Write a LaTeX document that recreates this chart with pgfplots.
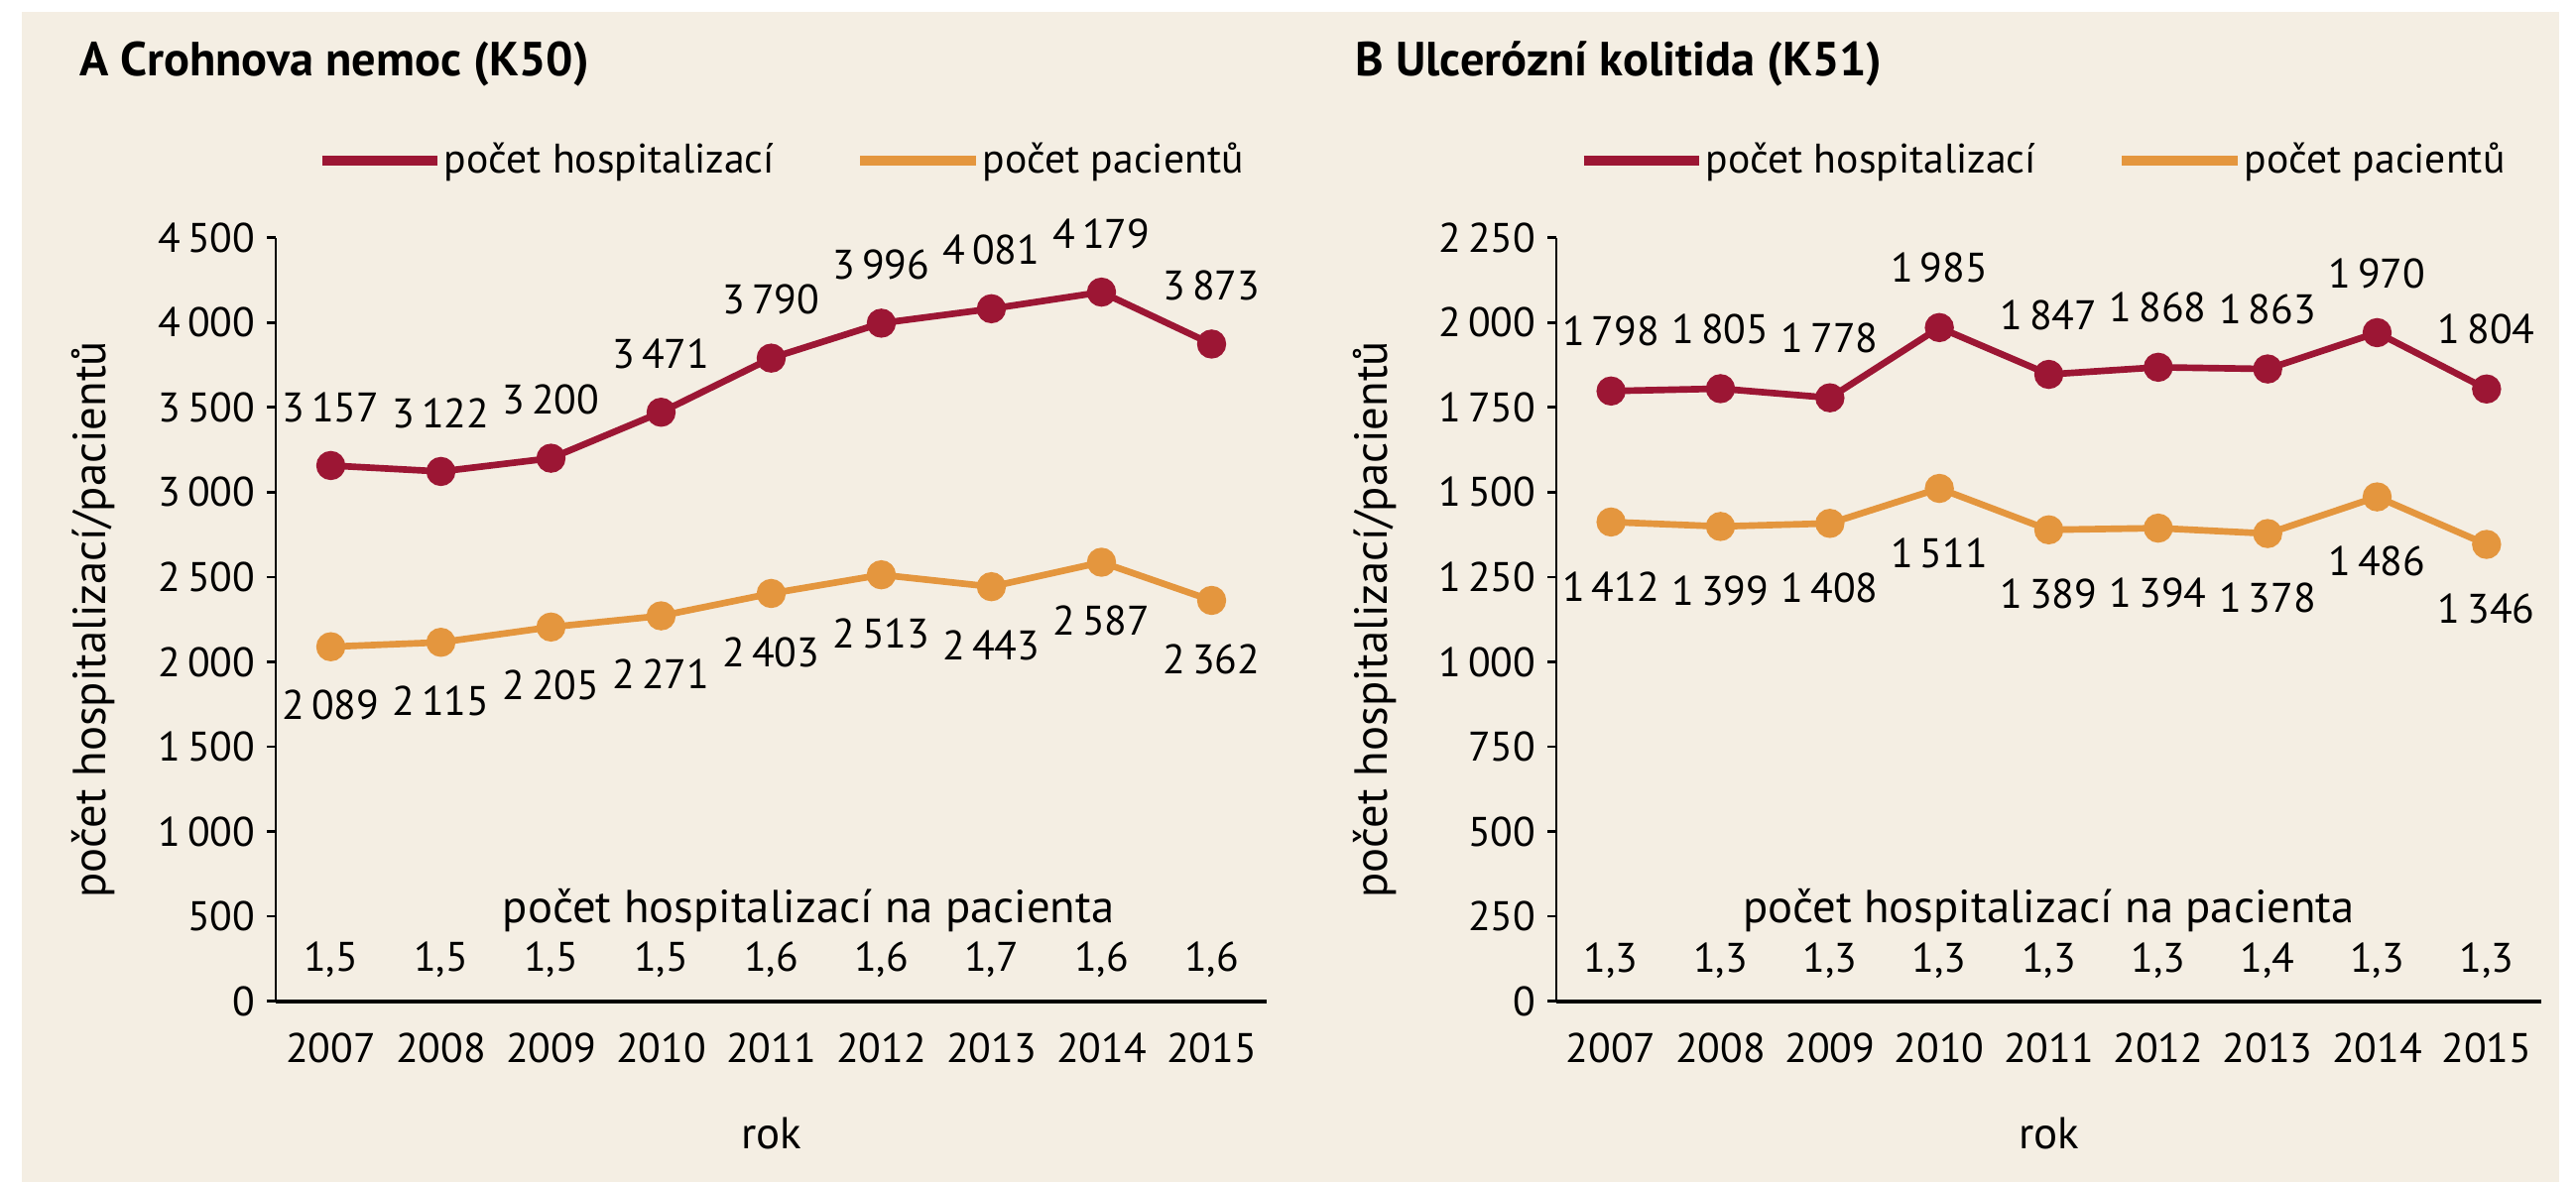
\documentclass[border=0pt]{standalone}
\usepackage{pgfplots}
\pgfplotsset{compat=1.18}
\usepackage{pgfplotstable}
\usepackage{fontspec}
\setmainfont{PT Sans}
\definecolor{bgc}{RGB}{244,238,227}
\definecolor{hosp}{RGB}{156,22,52}
\definecolor{pac}{RGB}{228,150,62}

\pgfplotstableread{
x hosp pac
0 3157 2089
1 3122 2115
2 3200 2205
3 3471 2271
4 3790 2403
5 3996 2513
6 4081 2443
7 4179 2587
8 3873 2362
}\dataA
\pgfplotstableread{
x hosp pac
0 1798 1412
1 1805 1399
2 1778 1408
3 1985 1511
4 1847 1389
5 1868 1394
6 1863 1378
7 1970 1486
8 1804 1346
}\dataB
\pgfplotstableread{
x pos r
0 245 1.5
1 245 1.5
2 245 1.5
3 245 1.5
4 245 1.6
5 245 1.6
6 245 1.7
7 245 1.6
8 245 1.6
}\ratioA
\pgfplotstableread{
x pos r
0 120 1.3
1 120 1.3
2 120 1.3
3 120 1.3
4 120 1.3
5 120 1.3
6 120 1.4
7 120 1.3
8 120 1.3
}\ratioB

\pgfplotsset{
  panel/.style={
    scale only axis, height=231pt,
    xmin=-0.5, xmax=8.5, ymin=0,
    axis lines*=left,
    axis line style={line width=0.8pt, black},
    x axis line style={line width=1.2pt},
    tick align=outside,
    xtick=\empty,
    minor xtick={-0.5,0.5,1.5,2.5,3.5,4.5,5.5,6.5,7.5,8.5},
    extra x ticks={0,1,2,3,4,5,6,7,8},
    extra x tick labels={2007,2008,2009,2010,2011,2012,2013,2014,2015},
    extra x tick style={major tick length=0pt, xticklabel style={yshift=-6pt}},
    minor tick length=4.5pt,
    major tick length=2.7pt,
    tick style={black, line width=0.8pt},
    clip=false,
    /pgf/number format/assume math mode=true,
    /pgf/number format/1000 sep={\,},
    tick label style={font=\fontsize{12.5}{14}\selectfont},
    xlabel={rok},
    ylabel={počet hospitalizací/pacientů},
    every axis x label/.style={at={(rel axis cs:0.5,-0.173)}, anchor=center, font=\fontsize{13.5}{15}\selectfont},
    every axis y label/.style={at={(rel axis cs:-0.184,0.5)}, rotate=90, anchor=center, font=\fontsize{14}{16}\selectfont},
    legend columns=2,
    legend style={draw=none, fill=none, inner sep=0pt, anchor=west,
      nodes={inner sep=0.5pt, anchor=west, font=\fontsize{12.5}{14}\selectfont},
      /tikz/every even column/.append style={column sep=24pt}},
    legend image code/.code={\draw[#1, mark=none, line width=3pt] (0pt,0pt) -- (35pt,0pt);},
  },
  hl/.style={hosp, line width=2pt, mark=*, mark size=3.4pt, mark options={solid},
    nodes near coords, point meta=y,
    every node near coord/.append style={anchor=center, yshift=#1, text=black, font=\fontsize{12.5}{14}\selectfont}},
  pl/.style={pac, line width=2pt, mark=*, mark size=3.4pt, mark options={solid},
    nodes near coords, point meta=y,
    every node near coord/.append style={anchor=center, yshift=#1, text=black, font=\fontsize{12.5}{14}\selectfont}},
  rl/.style={draw=none, mark=none, forget plot, nodes near coords, point meta=explicit,
    every node near coord/.append style={anchor=center, text=black, font=\fontsize{12.5}{14}\selectfont,
      /pgf/number format/.cd, fixed, fixed zerofill, precision=1, use comma}},
}

\begin{document}
\begin{tikzpicture}[font=\fontsize{12.5}{14}\selectfont]
\fill[white] (-83.4pt,-54.6pt) rectangle (695.7pt,302.9pt);
\fill[bgc] (-76.8pt,-54.6pt) rectangle (690.6pt,299.4pt);

\begin{axis}[panel, at={(0pt,0pt)}, anchor=south west, width=299.7pt,
  ymax=4500, ytick={0,500,...,4500},
  legend style={at={(rel axis cs:0.041,1.101)}}]
\addplot[hl=17.7pt] table[x=x, y=hosp] {\dataA};
\addlegendentry{počet hospitalizací}
\addplot[pl=-17.7pt] table[x=x, y=pac] {\dataA};
\addlegendentry{počet pacientů}
\addplot[rl] table[x=x, y=pos, meta=r] {\ratioA};
\node[font=\fontsize{14}{16}\selectfont] at (axis cs:4.34,538) {počet hospitalizací na pacienta};
\end{axis}

\begin{axis}[panel, at={(387.3pt,0pt)}, anchor=south west, width=297.9pt,
  ymax=2250, ytick={0,250,...,2250},
  legend style={at={(rel axis cs:0.022,1.101)}}]
\addplot[hl=18pt] table[x=x, y=hosp] {\dataB};
\addlegendentry{počet hospitalizací}
\addplot[pl=-19.5pt] table[x=x, y=pac] {\dataB};
\addlegendentry{počet pacientů}
\addplot[rl] table[x=x, y=pos, meta=r] {\ratioB};
\node[font=\fontsize{14}{16}\selectfont] at (axis cs:4.0,269) {počet hospitalizací na pacienta};
\end{axis}

\node[anchor=west, inner sep=0pt, font=\bfseries\fontsize{14.5}{16}\selectfont] at (-59.5pt,283.5pt) {A Crohnova nemoc (K50)};
\node[anchor=west, inner sep=0pt, font=\bfseries\fontsize{14.5}{16}\selectfont] at (326.4pt,283.5pt) {B Ulcerózní kolitida (K51)};
\end{tikzpicture}
\end{document}
